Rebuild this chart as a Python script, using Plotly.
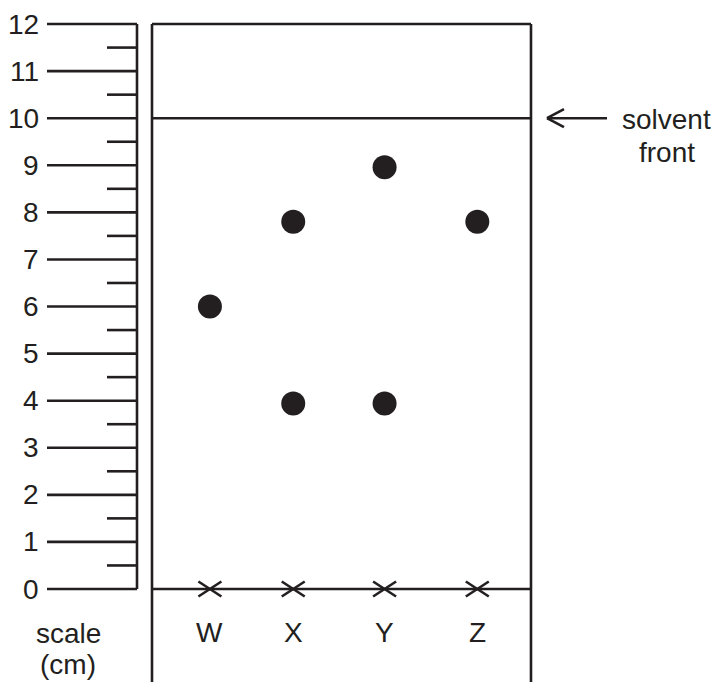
import plotly.graph_objects as go

# ---- data ----
scale_ticks = list(range(0, 13))            # cm marks on the ruler
minor_ticks = [i + 0.5 for i in range(12)]  # half-cm marks
lanes = ["W", "X", "Y", "Z"]
lane_pos = [1.23, 3.0, 4.94, 6.91]          # cm from paper left edge
spot_lane = ["W", "X", "X", "Y", "Y", "Z"]
spot_cm = [6.0, 7.8, 3.94, 8.96, 3.94, 7.8]
solvent_front = 10
paper_top = 12
paper_width = 8.05

# ---- layout helpers ----
OFF = 8                      # page body margin of the html page
W, H = 719 - OFF, 682 - OFF
PX = 47.08                   # pixels per cm
X0, Y0 = 152 - OFF, 589 - OFF  # pixel of paper left edge / baseline (figure coords)
INK = "#231f20"
FONT = dict(family="Liberation Sans, Arial, sans-serif", size=28, color=INK)
LW = 2.6

def xc(px):
    return (px - OFF - X0) / PX

def yc(py):
    return (Y0 - (py - OFF)) / PX

lane_x = dict(zip(lanes, lane_pos))

fig = go.Figure()
shapes = []

def seg(x0, y0, x1, y1):
    shapes.append(dict(type="line", xref="x", yref="y", x0=x0, y0=y0, x1=x1, y1=y1,
                       line=dict(color=INK, width=LW)))

# ruler
ruler_x = xc(137)
seg(ruler_x, 0, ruler_x, scale_ticks[-1])
for t in scale_ticks:
    seg(xc(47), t, ruler_x, t)
for t in minor_ticks:
    seg(xc(107), t, ruler_x, t)

# paper outline
bottom = yc(700)
seg(0, bottom, 0, paper_top)
seg(0, paper_top, paper_width, paper_top)
seg(paper_width, paper_top, paper_width, bottom)
seg(0, solvent_front, paper_width, solvent_front)
seg(0, 0, paper_width, 0)

# crosses at origin
dx, dy = 11.5 / PX, 7.5 / PX
for ln in lanes:
    cx = lane_x[ln]
    seg(cx - dx, -dy, cx + dx, dy)
    seg(cx - dx, dy, cx + dx, -dy)

# arrow pointing at solvent front
ay = solvent_front
seg(xc(547), ay, xc(607), ay)
seg(xc(547), ay, xc(564), ay + 9 / PX)
seg(xc(547), ay, xc(564), ay - 9 / PX)

# spots
fig.add_trace(go.Scatter(
    x=[lane_x[l] for l in spot_lane], y=spot_cm, mode="markers",
    marker=dict(size=24, color=INK, line=dict(width=0)),
    hoverinfo="skip", showlegend=False))

annotations = []
for t in scale_ticks:
    annotations.append(dict(x=xc(41), y=t, text=str(t), showarrow=False,
                            xanchor="right", yanchor="middle", font=FONT))
for ln in lanes:
    annotations.append(dict(x=lane_x[ln], y=yc(632), text=ln, showarrow=False,
                            xanchor="center", yanchor="middle", font=FONT))
annotations.append(dict(x=xc(68), y=yc(633), text="scale", showarrow=False,
                        xanchor="center", yanchor="middle", font=FONT))
annotations.append(dict(x=xc(68), y=yc(664), text="(cm)", showarrow=False,
                        xanchor="center", yanchor="middle", font=FONT))
annotations.append(dict(x=xc(666), y=yc(119), text="solvent", showarrow=False,
                        xanchor="center", yanchor="middle", font=FONT))
annotations.append(dict(x=xc(667), y=yc(152), text="front", showarrow=False,
                        xanchor="center", yanchor="middle", font=FONT))

fig.update_layout(
    width=W, height=H, autosize=False,
    margin=dict(l=0, r=0, t=0, b=0, pad=0),
    paper_bgcolor="white", plot_bgcolor="white",
    xaxis=dict(range=[xc(OFF), xc(OFF + W)], visible=False, fixedrange=True),
    yaxis=dict(range=[yc(OFF + H), yc(OFF)], visible=False, fixedrange=True),
    shapes=shapes, annotations=annotations, showlegend=False,
)

fig.write_html("out.html", config={"displayModeBar": False})
